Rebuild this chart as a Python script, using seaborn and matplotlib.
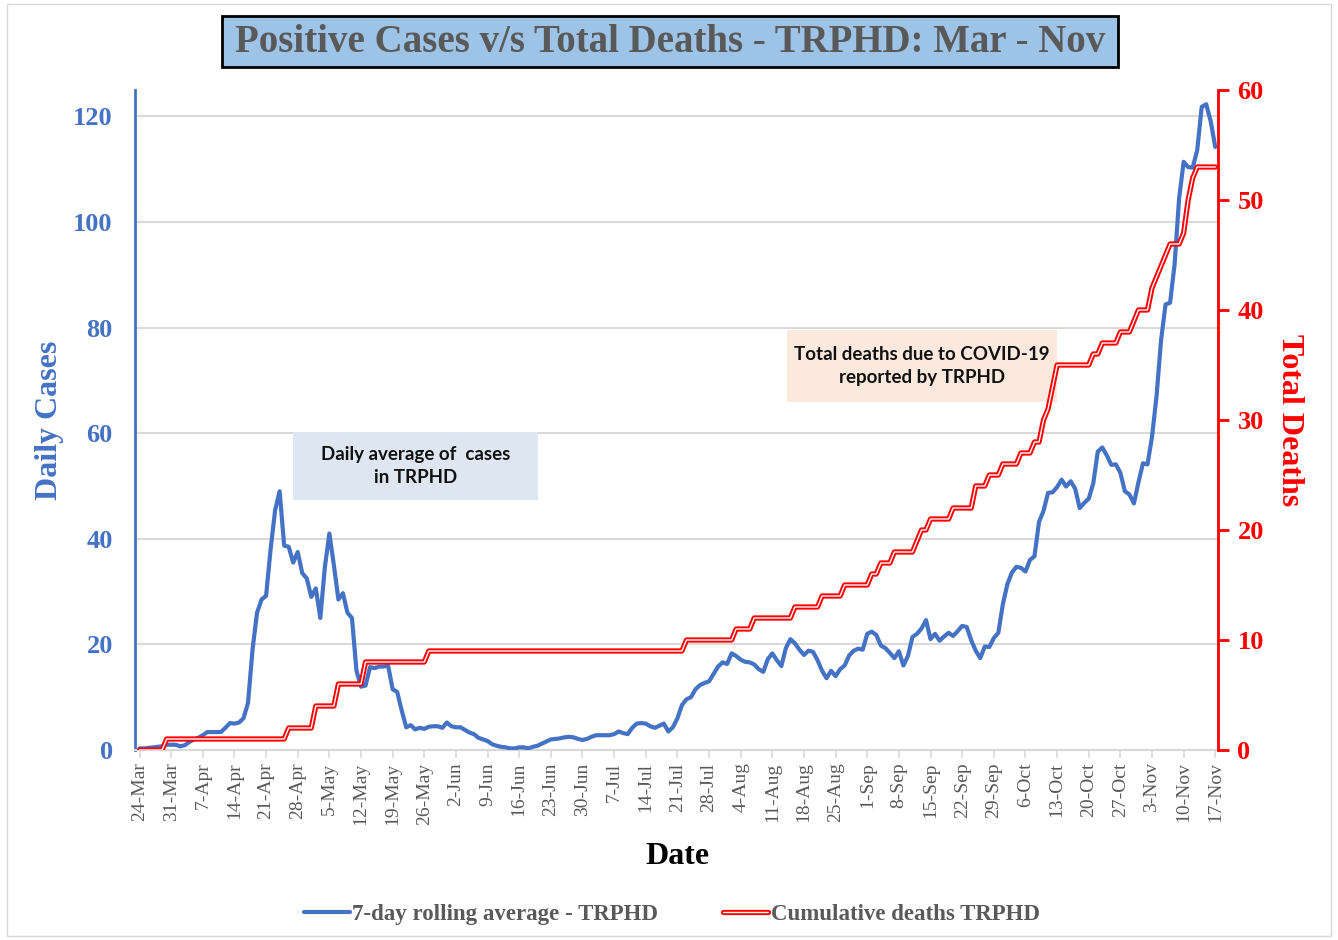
import pandas as pd
import matplotlib
matplotlib.use("Agg")
import matplotlib.pyplot as plt
from matplotlib.patches import Rectangle
from matplotlib.lines import Line2D
import seaborn as sns

# ---- colours (Excel-like) ----
BLUE = "#4472C4"
RED = "#FF0000"
GREY = "#595959"
GRID = "#D9D9D9"

# ---- data ----
first_day = "2020-03-24"
last_day = "2020-11-17"

# 7-day rolling average of daily cases, one value per day (24-Mar .. 17-Nov)
cases_7day = [
    0.3, 0.3, 0.4, 0.5, 0.6, 0.7, 1.0,         # 24-Mar
    1.0, 1.0, 0.7, 0.9, 1.5, 2.0, 2.3,         # 31-Mar
    2.8, 3.4, 3.4, 3.4, 3.4, 4.2, 5.1,         # 7-Apr
    5.0, 5.2, 6.0, 8.9, 19.0, 26.0, 28.5,      # 14-Apr
    29.2, 38.0, 45.4, 49.0, 38.7, 38.5, 35.5,  # 21-Apr
    37.5, 33.5, 32.5, 29.0, 30.6, 25.0, 34.6,  # 28-Apr
    41.0, 35.0, 28.5, 29.7, 26.0, 25.0, 15.0,  # 5-May
    12.0, 12.2, 15.7, 15.5, 15.8, 15.8, 16.0,  # 12-May
    11.5, 11.0, 7.5, 4.3, 4.7, 3.9, 4.2,       # 19-May
    4.0, 4.4, 4.5, 4.5, 4.2, 5.2, 4.5,         # 26-May
    4.3, 4.3, 3.8, 3.3, 3.0, 2.3, 2.0,         # 2-Jun
    1.7, 1.1, 0.8, 0.6, 0.5, 0.3, 0.3,         # 9-Jun
    0.5, 0.5, 0.3, 0.6, 0.8, 1.2, 1.6,         # 16-Jun
    2.0, 2.1, 2.2, 2.4, 2.5, 2.4, 2.1,         # 23-Jun
    1.9, 2.1, 2.5, 2.8, 2.8, 2.8, 2.8,         # 30-Jun
    3.0, 3.5, 3.2, 3.0, 4.2, 5.0, 5.1,         # 7-Jul
    5.0, 4.5, 4.2, 4.6, 5.0, 3.5, 4.3,         # 14-Jul
    6.0, 8.5, 9.6, 10.0, 11.5, 12.3, 12.7,     # 21-Jul
    13.0, 14.4, 15.8, 16.6, 16.3, 18.3, 17.8,  # 28-Jul
    17.1, 16.7, 16.6, 16.2, 15.3, 14.8, 17.2,  # 4-Aug
    18.3, 17.0, 15.9, 19.3, 21.0, 20.2, 19.0,  # 11-Aug
    18.0, 18.8, 18.6, 17.0, 15.0, 13.6, 15.0,  # 18-Aug
    14.0, 15.3, 16.0, 17.9, 18.8, 19.2, 19.0,  # 25-Aug
    22.0, 22.4, 21.8, 19.8, 19.3, 18.4, 17.4,  # 1-Sep
    18.7, 16.0, 17.8, 21.4, 22.0, 23.0, 24.6,  # 8-Sep
    21.0, 22.0, 20.7, 21.5, 22.2, 21.6, 22.5,  # 15-Sep
    23.5, 23.3, 20.8, 18.8, 17.4, 19.6, 19.5,  # 22-Sep
    21.2, 22.2, 27.6, 31.4, 33.6, 34.7, 34.5,  # 29-Sep
    33.8, 36.0, 36.7, 43.2, 45.3, 48.7, 48.8,  # 6-Oct
    49.8, 51.2, 49.9, 50.9, 49.5, 45.8, 46.8,  # 13-Oct
    47.6, 50.5, 56.5, 57.3, 55.8, 54.0, 54.1,  # 20-Oct
    52.5, 49.0, 48.4, 46.7, 50.7, 54.3, 54.1,  # 27-Oct
    59.3, 67.0, 77.6, 84.4, 84.7, 92.0, 104.5, # 3-Nov
    111.4, 110.4, 110.3, 113.6, 121.8, 122.3, 119.0,  # 10-Nov
    114.2,                                     # 17-Nov
]

# cumulative deaths: dates on which the total changed, and the new total
death_dates = [
    "2020-03-24", "2020-03-30", "2020-04-26", "2020-05-02", "2020-05-07",
    "2020-05-13", "2020-05-27", "2020-07-23", "2020-08-03", "2020-08-07",
    "2020-08-16", "2020-08-22", "2020-08-27", "2020-09-02", "2020-09-04",
    "2020-09-07", "2020-09-12", "2020-09-13", "2020-09-15", "2020-09-20",
    "2020-09-25", "2020-09-28", "2020-10-01", "2020-10-05", "2020-10-08",
    "2020-10-10", "2020-10-11", "2020-10-12", "2020-10-13", "2020-10-21",
    "2020-10-23", "2020-10-27", "2020-10-30", "2020-10-31", "2020-11-03",
    "2020-11-04", "2020-11-05", "2020-11-06", "2020-11-07", "2020-11-10",
    "2020-11-11", "2020-11-12", "2020-11-13",
]
death_totals = [
    0, 1, 2, 4, 6,
    8, 9, 10, 11, 12,
    13, 14, 15, 16, 17,
    18, 19, 20, 21, 22,
    24, 25, 26, 27, 28,
    30, 31, 33, 35, 36,
    37, 38, 39, 40, 42,
    43, 44, 45, 46, 47,
    50, 52, 53,
]

left_ticks = [0, 20, 40, 60, 80, 100, 120]
right_ticks = [0, 10, 20, 30, 40, 50, 60]

# ---- build table ----
days = pd.date_range(first_day, last_day, freq="D")
df = pd.DataFrame({"date": days, "cases": cases_7day})
deaths = pd.Series(death_totals, index=pd.to_datetime(death_dates)).reindex(days).ffill()
df["deaths"] = deaths.values
tick_dates = pd.date_range(first_day, last_day, freq="7D")

# ---- style ----
sns.set_theme(style="white")
SERIF = ["Liberation Serif", "DejaVu Serif"]
SANS = ["Lato", "DejaVu Sans"]
plt.rcParams["font.family"] = SERIF

W, H = 1338, 940
fig = plt.figure(figsize=(W / 100, H / 100), dpi=100)
ax = fig.add_axes([135 / W, 1 - 750 / H, (1218 - 135) / W, (750 - 90) / H])
ax2 = ax.twinx()

sns.lineplot(data=df, x="date", y="cases", ax=ax, color=BLUE, lw=3, zorder=3)
sns.lineplot(data=df, x="date", y="deaths", ax=ax2, color=RED, lw=3.8, zorder=3)
sns.lineplot(data=df, x="date", y="deaths", ax=ax2, color="white", lw=1.0, zorder=4)

ax.set_xlim(pd.Timestamp(first_day) - pd.Timedelta(days=1),
            pd.Timestamp(last_day) + pd.Timedelta(days=0.6))
ax.set_ylim(0, 125)
ax2.set_ylim(0, 60)
ax.set_yticks(left_ticks)
ax2.set_yticks(right_ticks)
ax.set_xticks(tick_dates)
ax.set_xticklabels([f"{d.day}-{d:%b}" for d in tick_dates], rotation=90)
for a in (ax, ax2):
    a.set_xlabel("")
    a.set_ylabel("")

ax.yaxis.grid(True, color=GRID, lw=1.5)
ax.set_axisbelow(True)

for s in ("top", "right"):
    ax.spines[s].set_visible(False)
ax.spines["left"].set_color(BLUE)
ax.spines["left"].set_linewidth(2)
ax.spines["bottom"].set_color(GRID)
ax.spines["bottom"].set_linewidth(1.5)
for s in ("top", "left", "bottom"):
    ax2.spines[s].set_visible(False)
ax2.spines["right"].set_color(RED)
ax2.spines["right"].set_linewidth(2)

ax.tick_params(axis="y", length=0, pad=16, labelcolor=BLUE, labelsize=19)
ax.tick_params(axis="x", bottom=True, length=6, width=1.2, color=GRID, pad=3,
               labelcolor=GREY, labelsize=14)
ax2.tick_params(axis="y", right=True, length=8, width=2, color=RED, direction="out",
                pad=6, labelcolor=RED, labelsize=19)
for lab in ax.get_yticklabels() + ax2.get_yticklabels():
    lab.set_fontweight("bold")

# axis titles
fig.text(50 / W, 1 - 420 / H, "Daily Cases", rotation=90, ha="center", va="center",
         color=BLUE, fontsize=23, fontweight="bold")
fig.text(1290 / W, 1 - 420 / H, "Total Deaths", rotation=270, ha="center", va="center",
         color=RED, fontsize=23, fontweight="bold")
fig.text(677 / W, 1 - 857 / H, "Date", ha="center", va="center",
         color="black", fontsize=23, fontweight="bold")

# chart title in its blue box
fig.add_artist(Rectangle((222 / W, 1 - 67 / H), 896 / W, 51 / H, transform=fig.transFigure,
                         fc="#9DC3E6", ec="black", lw=2, zorder=5))
fig.text(670 / W, 1 - 42 / H, "Positive Cases v/s Total Deaths - TRPHD: Mar - Nov",
         ha="center", va="center", color=GREY, fontsize=28, fontweight="bold", zorder=6)

# text boxes inside the plot
boxes = [
    ((293, 432, 245, 68), "#DEE6F2", "Daily average of  cases\nin TRPHD"),
    ((787, 330, 270, 72), "#FBE9DE", "Total deaths due to COVID-19\nreported by TRPHD"),
]
for (bx, by, bw, bh), col, txt in boxes:
    ax2.add_patch(Rectangle((bx / W, 1 - (by + bh) / H), bw / W, bh / H,
                            transform=fig.transFigure, fc=col, ec="none", zorder=1))
    ax2.text((bx + bw / 2) / W, 1 - (by + bh / 2) / H, txt, transform=fig.transFigure,
             ha="center", va="center", fontsize=13.5, fontweight="bold", family=SANS,
             color="#111111", linespacing=1.4, zorder=2)

# legend
h_cases = Line2D([], [], color=BLUE, lw=3)
h_deaths = (Line2D([], [], color=RED, lw=3.8), Line2D([], [], color="white", lw=1.0))
fig.legend([h_cases, h_deaths], ["7-day rolling average - TRPHD", "Cumulative deaths TRPHD"],
           loc="center", bbox_to_anchor=(672 / W, 1 - 914 / H), ncol=2, frameon=False,
           handlelength=2.0, handletextpad=0.1, columnspacing=2.8,
           prop={"size": 16.5, "weight": "bold"}, labelcolor=GREY)

# thin chart-area border
fig.add_artist(Rectangle((0.005, 0.004), 0.99, 0.992, transform=fig.transFigure,
                         fill=False, ec=GRID, lw=1))

fig.savefig("out.png", dpi=100)
